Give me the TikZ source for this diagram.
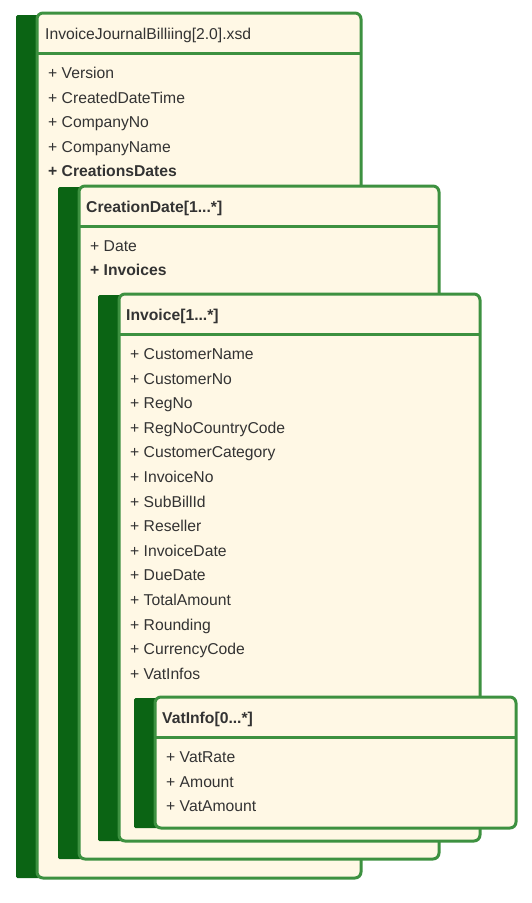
\documentclass[tikz,border=0pt]{standalone}
\usepackage{fontspec}
\setmainfont{Liberation Sans}
\definecolor{darkg}{HTML}{0B6414}
\definecolor{lineg}{HTML}{3D9140}
\definecolor{cream}{HTML}{FFF8E5}
\definecolor{txt}{HTML}{333333}
\tikzset{
  shade/.style={fill=darkg, rounded corners=1.5pt},
  card/.style={fill=cream, draw=lineg, line width=3pt, rounded corners=6pt},
  sep/.style={draw=lineg, line width=3pt},
  item/.style={anchor=base west, inner sep=0pt, text=txt, font=\fontsize{15.7}{18}\selectfont},
  title/.style={item, font=\fontsize{15.7}{18}\selectfont\bfseries},
}
\begin{document}
\begin{tikzpicture}[x=1pt,y=-1pt]
\useasboundingbox (0,0) rectangle (532,903);
% Box 1
\fill[shade] (16,15) rectangle (45,878);
\draw[card] (37,13) rectangle (361,878);
\draw[sep] (37,53) -- (361,53);
\node[item] (t1) at (45,39.5) {InvoiceJournalBilliing[2.0].xsd};
\node[item] (a1) at (48,78.5) {+ Version};
\node[item] (a2) at (48,103) {+ CreatedDateTime};
\node[item] (a3) at (48,127.5) {+ CompanyNo};
\node[item] (a4) at (48,152) {+ CompanyName};
\node[title] (a5) at (48,176.5) {+ CreationsDates};
% Box 2
\fill[shade] (58,187) rectangle (87,859);
\draw[card] (79,186) rectangle (439,859);
\draw[sep] (79,226) -- (439,226);
\node[title] (t2) at (86,212.5) {CreationDate[1...*]};
\node[item] (b1) at (90,251) {+ Date};
\node[title] (b2) at (90,275.5) {+ Invoices};
% Box 3
\fill[shade] (98,295) rectangle (127,841);
\draw[card] (119,294) rectangle (480,841);
\draw[sep] (119,334) -- (480,334);
\node[title] (t3) at (126,320.5) {Invoice[1...*]};
\foreach \txt [count=\i from 0] in {CustomerName,CustomerNo,RegNo,RegNoCountryCode,CustomerCategory,InvoiceNo,SubBillId,Reseller,InvoiceDate,DueDate,TotalAmount,Rounding,CurrencyCode,VatInfos}
  \node[item] (c\i) at (130,359.5+24.6*\i) {+ \txt};
% Box 4
\fill[shade] (134,698) rectangle (163,828);
\draw[card] (155,697) rectangle (516,828);
\draw[sep] (155,737) -- (516,737);
\node[title] (t4) at (162,723.5) {VatInfo[0...*]};
\node[item] (d1) at (166,762.5) {+ VatRate};
\node[item] (d2) at (166,787) {+ Amount};
\node[item] (d3) at (166,811.5) {+ VatAmount};
\end{tikzpicture}
\end{document}
